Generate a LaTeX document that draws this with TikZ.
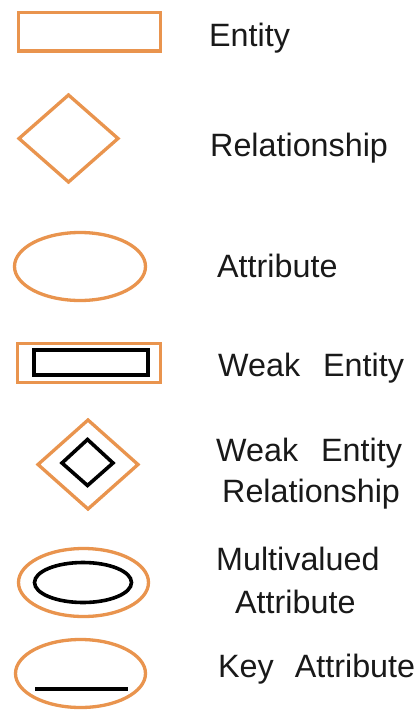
\documentclass[tikz,border=0pt]{standalone}
\usepackage{fontspec}
\setmainfont{Liberation Sans}
\definecolor{erorange}{RGB}{233,148,78}
\begin{document}
\begin{tikzpicture}[x=1pt,y=-1pt,
  oshape/.style={draw=erorange,line width=3.3pt,line join=miter},
  kshape/.style={draw=black,line width=3.6pt,line join=miter},
  lbl/.style={anchor=base west,inner sep=0pt,text=black!90,font=\fontsize{32.3}{38}\selectfont}]
\useasboundingbox[fill=white] (0,0) rectangle (418,711);
% Entity
\draw[oshape] (18.5,12.7) rectangle (160.5,51);
\node[lbl] (tEntity) at (209,47) {Entity};
% Relationship
\draw[oshape] (68.5,95) -- (118,138.5) -- (68.5,182) -- (19,138.5) -- cycle;
\node[lbl] (tRel) at (210,156.5) {Relationship};
% Attribute
\draw[oshape] (80,266.5) ellipse [x radius=65.5, y radius=34];
\node[lbl] (tAttr) at (217,277) {Attribute};
% Weak entity
\draw[oshape] (17.5,343.5) rectangle (160.5,382.5);
\draw[kshape] (34,350) rectangle (148,375);
\node[lbl] (tWeak) at (218,376) {Weak\hspace{23pt}Entity};
% Weak entity relationship
\draw[oshape] (88,420) -- (138,464.5) -- (88,509) -- (38,464.5) -- cycle;
\draw[kshape] (87.5,439.5) -- (113,463) -- (87.5,485.5) -- (62,463) -- cycle;
\node[lbl] (tWer1) at (216,461) {Weak\hspace{23pt}Entity};
\node[lbl] (tWer2) at (222,502) {Relationship};
% Multivalued attribute
\draw[oshape] (83.5,582.5) ellipse [x radius=65, y radius=34];
\draw[kshape] (83,582.5) ellipse [x radius=48.5, y radius=20];
\node[lbl] (tMv1) at (216,570) {Multivalued};
\node[lbl] (tMv2) at (235,613) {Attribute};
% Key attribute
\draw[oshape] (80.5,673.5) ellipse [x radius=65, y radius=34];
\coordinate (k1) at (35,689);
\coordinate (k2) at (128,689);
\draw[draw=black,line width=4pt] (k1) -- (k2);
\node[lbl] (tKey) at (218,677) {Key\hspace{21pt}Attribute};
\end{tikzpicture}
\end{document}
